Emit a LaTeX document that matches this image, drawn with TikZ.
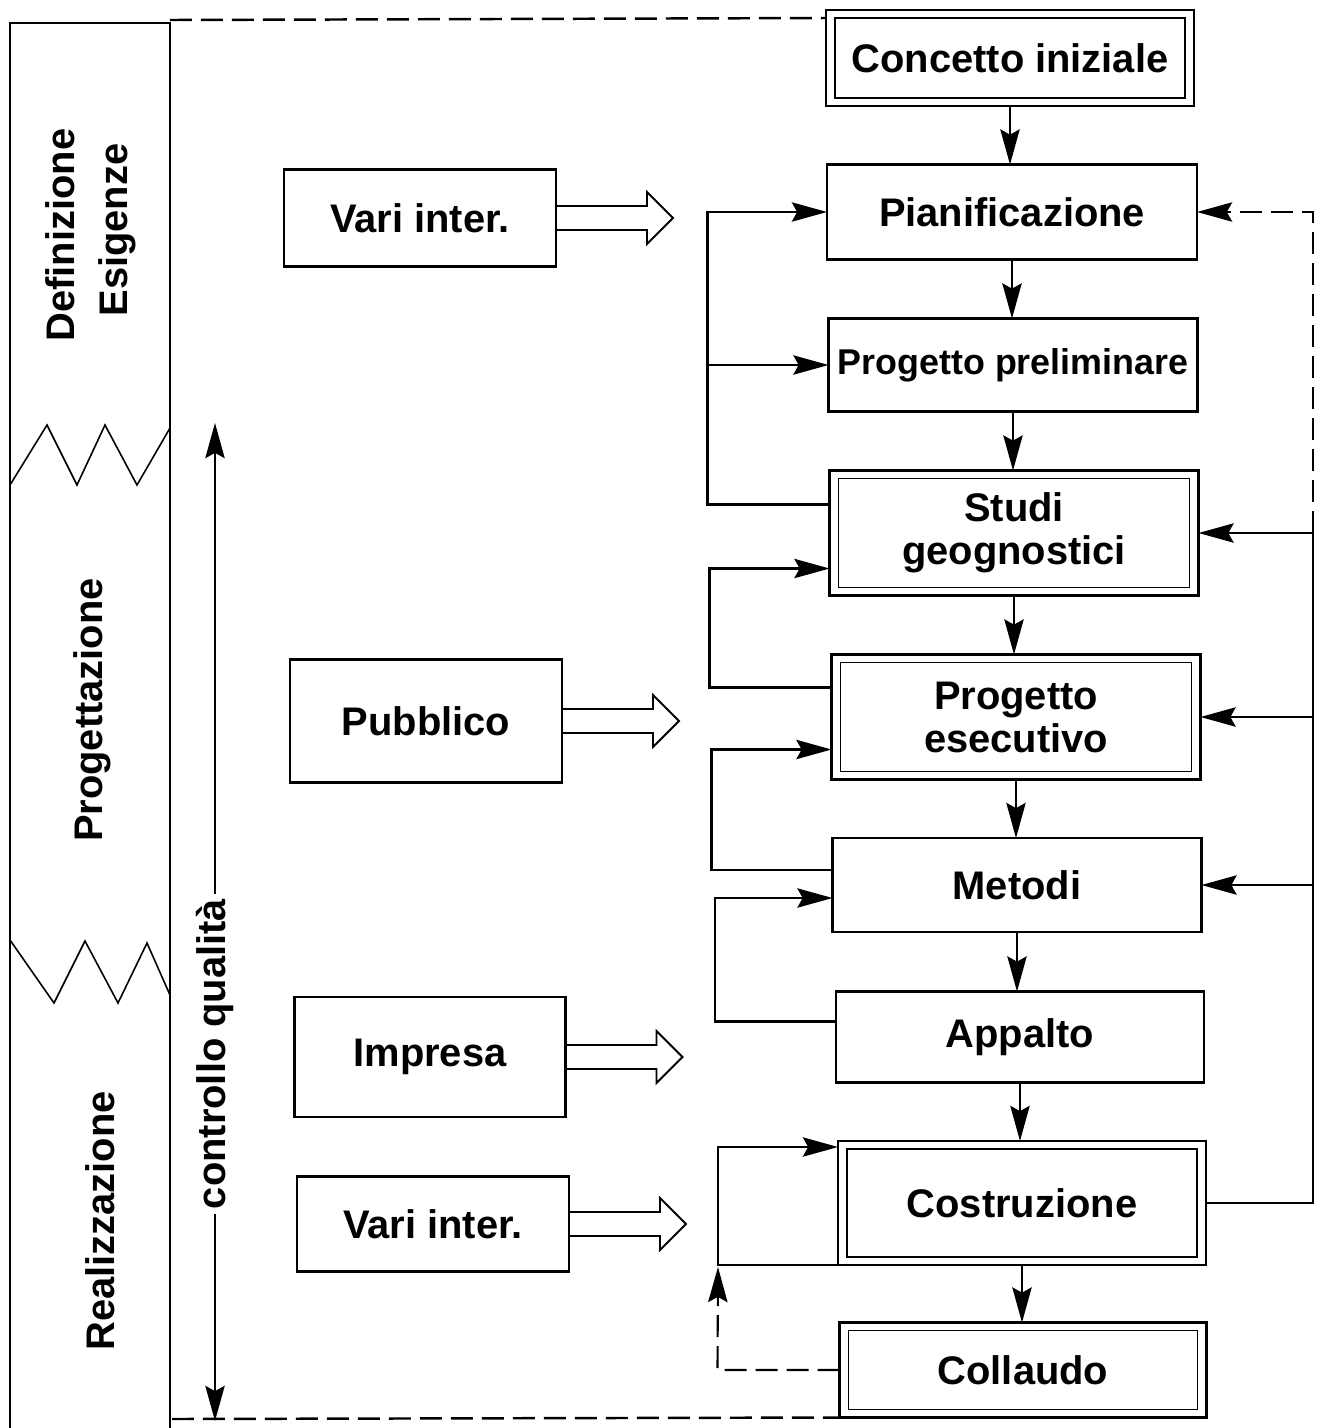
\documentclass[tikz,border=0pt]{standalone}
\usepackage{fontspec}
\setmainfont{Liberation Sans}
\usetikzlibrary{arrows.meta,calc}
\begin{document}
\begin{tikzpicture}[x=0.02cm,y=-0.02cm,
  every node/.style={font=\fontsize{22.7pt}{24.5pt}\selectfont\bfseries, inner sep=0pt, outer sep=0pt},
  sz/.style 2 args={minimum width=#1*0.02cm, minimum height=#2*0.02cm},
  box/.style={draw, line width=1.5pt, align=center},
  inbox/.style={line width=0.9pt},
  conn/.style={line width=1.2pt},
  tip/.style={-{Stealth[length=20pt,width=11pt,inset=3pt]}},
  hollow/.style={line width=1.1pt, line join=miter},
  frame/.style={line width=1.4pt},
  zig/.style={line width=0.9pt},
  dashy/.style={dash pattern=on 0.44cm off 0.18cm}
]
\useasboundingbox (0,0) rectangle (1330,1428);

% left phase column
\draw[frame] (10,1428) -- (10,23) -- (170,23) -- (170,1428);
\draw[zig] (10,485) -- (47,425) -- (77,485) -- (105,425) -- (137,485) -- (170,428);
\draw[zig] (10,940) -- (54,1003) -- (85,941) -- (118,1003) -- (147,943) -- (170,995);
\node[rotate=90] (lb1) at (60,235) {Definizione};
\node[rotate=90] (lb2) at (117,230) {Esigenze};
\node[rotate=90] (lb3) at (92,710) {Progettazione};
\node[rotate=90] (lb4) at (100,1221) {Realizzazione};

% main column
\node[box, sz={368}{96}] (ci) at (1010,58) {Concetto iniziale};
\node[box, sz={370}{95}] (pl) at (1012,212) {Pianificazione};
\node[box, sz={369}{93}, font=\fontsize{20.4pt}{24pt}\selectfont\bfseries] (pp) at (1013,365) {Progetto preliminare};
\node[box, sz={369}{125}] (sg) at (1014,533) {Studi\\geognostici};
\node[box, sz={369}{125}] (pe) at (1016,717) {Progetto\\esecutivo};
\node[box, sz={369}{94}] (me) at (1017,885) {Metodi};
\node[box, sz={368}{91}] (ap) at (1020,1037) {Appalto};
\node[box, sz={368}{124}] (co) at (1022,1203) {Costruzione};
\node[box, sz={367}{95}] (cl) at (1023,1370) {Collaudo};
\foreach \n in {ci,sg,pe,co,cl}
  \draw[inbox] ($(\n.north west)+(9,8)$) rectangle ($(\n.south east)+(-9,-8)$);

% vertical flow
\foreach \a/\b in {ci/pl,pl/pp,pp/sg,sg/pe,pe/me,me/ap,ap/co,co/cl}
  \draw[conn,tip] (\a.south) -- (\a.south |- \b.north);

% left feedback loops
\draw[conn,tip] ($(sg.north west)+(0,34)$) -- ($(sg.north west)+(-122,34)$) |- (pl.west);
\draw[conn,tip] ($(sg.north west)+(-122,34)$) |- (pp.west);
\draw[conn,tip] ($(pe.north west)+(0,33)$) -- ($(pe.north west)+(-122,33)$) |- ($(sg.south west)+(0,-27)$);
\draw[conn,tip] ($(me.north west)+(0,32)$) -- ($(me.north west)+(-121,32)$) |- ($(pe.south west)+(0,-30)$);
\draw[conn,tip] ($(ap.north west)+(0,30)$) -- ($(ap.north west)+(-121,30)$) |- ($(me.south west)+(0,-34)$);
\draw[conn,tip] (co.south west) -- ++(-120,0) |- ($(co.north west)+(0,6)$);
\draw[conn,dashy,tip] (cl.west) -- ++(-122,0) -- ($(co.south west)+(-120,2)$);

% right feedback
\coordinate (rx) at (1313,0);
\draw[conn] (co.east) -- (co.east -| rx) -- (sg.east -| rx);
\draw[conn,tip] (sg.east -| rx) -- (sg.east);
\draw[conn,tip] (pe.east -| rx) -- (pe.east);
\draw[conn,tip] (me.east -| rx) -- (me.east);
\draw[conn,dashy,tip] (sg.east -| rx) -- (pl.east -| rx) -- (pl.east);

% participant boxes
\node[box, sz={272}{97}] (vi1) at (420,218) {Vari inter.};
\node[box, sz={272}{123}] (pu) at (426,721) {Pubblico};
\node[box, sz={271}{120}] (im) at (430,1057) {Impresa};
\node[box, sz={272}{95}] (vi2) at (433,1224) {Vari inter.};
\foreach \n in {vi1,pu,im,vi2}
  \draw[hollow] ($(\n.east)+(0,-12)$) -- ++(91,0) -- ++(0,-14) -- ++(26,26) -- ++(-26,26) -- ++(0,-14) -- ++(-91,0);

% quality control axis
\node[rotate=90, inner sep=3pt] (cq) at (215,1054) {controllo qualità};
\coordinate (cqt) at (215,423);
\coordinate (cqb) at (215,1421);
\draw[conn,tip] (cq.east) -- (cqt);
\draw[conn,tip] (cq.west) -- (cqb);

% dashed frame
\draw[frame,dashy] (170,20) -- ($(ci.north west)+(0,8)$);
\draw[frame,dashy] (172,1419) -- (cl.south west);
\end{tikzpicture}
\end{document}
